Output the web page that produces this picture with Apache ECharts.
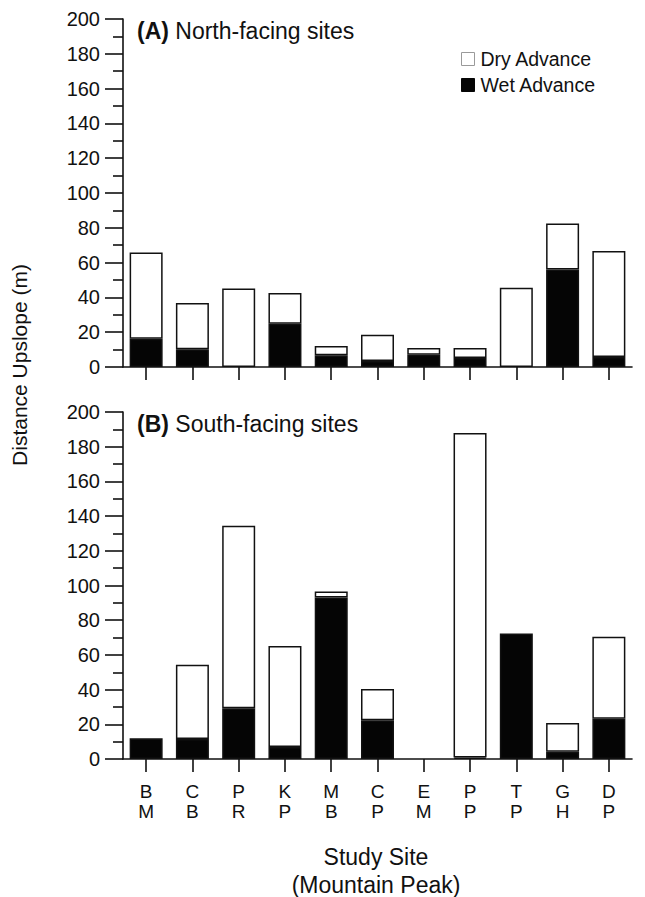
<!DOCTYPE html>
<html>
<head>
<meta charset="utf-8">
<script src="https://cdn.jsdelivr.net/npm/echarts@6/dist/echarts.min.js"></script>
<style>
html,body{margin:0;padding:0;background:#fff;}
#chart{width:645px;height:897px;}
</style>
</head>
<body>
<div id="chart"></div>
<script>
// Site categories (two-letter codes shown on two lines)
const sites = ['B\nM','C\nB','P\nR','K\nP','M\nB','C\nP','E\nM','P\nP','T\nP','G\nH','D\nP'];
const yTicks = [0,20,40,60,80,100,120,140,160,180,200];

// (A) North-facing sites
const northWet = [16.3, 10.2, 0, 24.9, 6.7, 3.5, 7.1, 5.2, 0, 56.0, 5.8];
const northDry = [49.5, 26.6, 45.1, 17.7, 5.4, 15.1, 3.8, 5.7, 45.6, 26.5, 60.8];

// (B) South-facing sites
const southWet = [11.9, 11.5, 29.2, 6.9, 93.1, 22.3, 0, 0.8, 72.4, 4.2, 23.2];
const southDry = [0, 42.8, 105.2, 58.2, 3.4, 18.0, 0, 187.1, 0, 16.5, 47.2];

const FONT = '"Liberation Sans", Arial, Helvetica, sans-serif';
const INK = '#111';

const chart = echarts.init(document.getElementById('chart'), null, {renderer: 'svg'});

function xAxis(gridIndex, showLabels) {
  return {
    type: 'category', gridIndex, data: sites,
    axisLine: {lineStyle: {color: INK, width: 1.6}},
    axisTick: {show: true, alignWithLabel: true, length: 13, inside: false, lineStyle: {color: INK, width: 1.6}},
    axisLabel: {show: showLabels, color: INK, fontFamily: FONT, fontSize: 19, lineHeight: 20, margin: 22, interval: 0},
    splitLine: {show: false}
  };
}
function yAxis(gridIndex) {
  return {
    type: 'value', gridIndex, min: yTicks[0], max: yTicks[yTicks.length - 1], interval: 20,
    axisLine: {show: true, lineStyle: {color: INK, width: 1.6}},
    axisTick: {show: true, length: 18, lineStyle: {color: INK, width: 1.6}},
    minorTick: {show: true, splitNumber: 2, length: 10, lineStyle: {color: INK, width: 1.6}},
    axisLabel: {color: INK, fontFamily: FONT, fontSize: 20, margin: 23},
    splitLine: {show: false}
  };
}
const wetStyle = {color: '#050505', borderColor: INK, borderWidth: 1.5};
const dryStyle = {color: '#ffffff', borderColor: INK, borderWidth: 1.5};
const nz = arr => arr.map(v => (v === 0 ? null : v));

function bars(idx, wet, dry, stack) {
  return [
    {name: 'Wet Advance', type: 'bar', xAxisIndex: idx, yAxisIndex: idx, stack, data: nz(wet), barWidth: 33, itemStyle: wetStyle, silent: true},
    {name: 'Dry Advance', type: 'bar', xAxisIndex: idx, yAxisIndex: idx, stack, data: nz(dry), barWidth: 33, itemStyle: dryStyle, silent: true}
  ];
}

const titleStyle = {fontFamily: FONT, fontSize: 23, fontWeight: 'normal', color: INK,
  rich: {b: {fontFamily: FONT, fontSize: 23, fontWeight: 'bold', color: INK}}};

chart.setOption({
  animation: false,
  backgroundColor: '#fff',
  textStyle: {fontFamily: FONT},
  grid: [
    {left: 123, top: 19, width: 509, height: 348},
    {left: 123, top: 412, width: 509, height: 347}
  ],
  xAxis: [xAxis(0, false), xAxis(1, true)],
  yAxis: [yAxis(0), yAxis(1)],
  legend: {
    orient: 'vertical', left: 456, top: 44, itemWidth: 13, itemHeight: 13, itemGap: 6,
    selectedMode: false,
    textStyle: {fontFamily: FONT, fontSize: 19.5, color: INK, padding: [0, 0, 0, 1]},
    data: [
      {name: 'Dry Advance', icon: 'rect', itemStyle: {color: '#fff', borderColor: '#9a9a9a', borderWidth: 1}},
      {name: 'Wet Advance', icon: 'rect', itemStyle: {color: '#050505', borderColor: '#050505', borderWidth: 1}}
    ]
  },
  title: [
    {text: '{b|(A)} North-facing sites', left: 132, top: 14, textStyle: titleStyle},
    {text: '{b|(B)} South-facing sites', left: 132, top: 407, textStyle: titleStyle}
  ],
  graphic: [
    {type: 'text', x: 19, y: 365, rotation: Math.PI / 2,
     style: {text: 'Distance Upslope (m)', font: '21px ' + FONT, fill: INK, textAlign: 'center', textVerticalAlign: 'middle'}},
    {type: 'text', x: 376, y: 871,
     style: {text: 'Study Site\n(Mountain Peak)', font: '23px ' + FONT, fill: INK, textAlign: 'center', textVerticalAlign: 'middle', lineHeight: 28}}
  ],
  series: [
    ...bars(0, northWet, northDry, 'north'),
    ...bars(1, southWet, southDry, 'south')
  ]
});
</script>
</body>
</html>
